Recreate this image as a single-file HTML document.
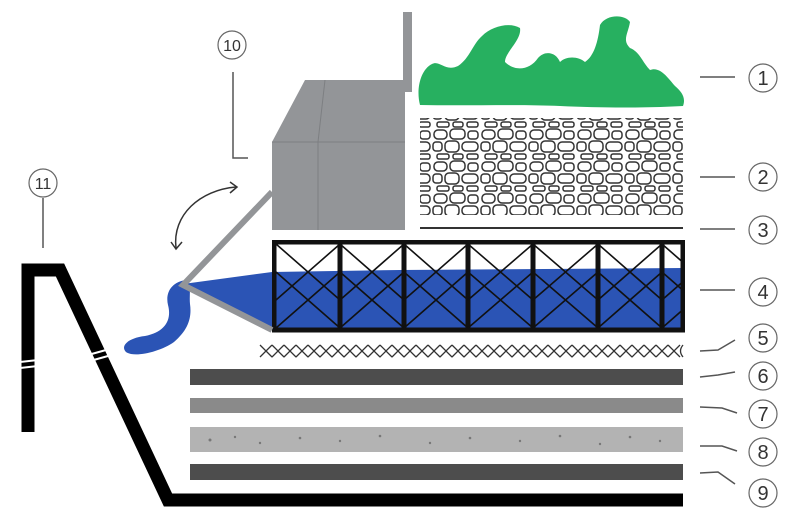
<!DOCTYPE html>
<html><head><style>body{margin:0;background:#fff}svg{display:block}</style></head><body>
<svg width="800" height="523" viewBox="0 0 800 523" xmlns="http://www.w3.org/2000/svg" font-family="Liberation Sans, sans-serif">
<defs>
<pattern id="grav" width="48" height="32" patternUnits="userSpaceOnUse">
<rect width="48" height="32" fill="#fff"/>
<g fill="none" stroke="#333" stroke-width="1.5">
<rect x="2" y="2" width="13" height="9" rx="4"/><rect x="18" y="1" width="15" height="10" rx="4"/><rect x="36" y="3" width="10" height="8" rx="3"/>
<rect x="1" y="14" width="9" height="9" rx="3"/><rect x="13" y="13" width="14" height="11" rx="4"/><rect x="30" y="14" width="16" height="9" rx="4"/>
<rect x="5" y="26" width="12" height="5" rx="2"/><rect x="21" y="26" width="10" height="5" rx="2"/><rect x="35" y="26" width="11" height="5" rx="2"/>
</g></pattern>
<clipPath id="tc"><rect x="272" y="240" width="413" height="93"/></clipPath>
</defs>
<!-- green -->
<path d="M420,105 C416,90 420,70 432,64 C440,60 445,72 458,66 C470,58 472,45 482,36 C492,26 510,22 520,28 C522,40 505,52 505,62 C515,72 530,70 538,58 C545,50 556,52 560,62 C566,56 578,56 585,62 C594,56 598,42 600,25 C606,14 625,14 630,22 C628,34 622,40 630,48 C640,52 642,62 650,70 C660,66 668,78 675,86 C682,92 686,98 683,106 C650,108 600,108 560,106 C520,104 470,106 420,105 Z" fill="#27b060"/>
<!-- gravel -->
<rect x="420" y="118" width="263" height="97" fill="url(#grav)"/>
<line x1="420" y1="228" x2="683" y2="228" stroke="#333" stroke-width="2"/>
<!-- blue -->
<path d="M183,284 L272,272 L400,270 L683,268 L683,330 L272,330 Z" fill="#2b54b5"/>
<path d="M186,280 C172,282 165,292 168,305 C172,320 165,332 145,336 C128,338 120,346 126,352 C134,358 160,352 174,342 C188,330 192,318 190,304 C189,294 192,286 186,280 Z" fill="#2b54b5"/>
<!-- truss -->
<g stroke="#111" fill="none" clip-path="url(#tc)">
<rect x="274" y="242" width="409" height="88" stroke-width="5"/>
<g stroke-width="5">
<line x1="340" y1="242" x2="340" y2="330"/><line x1="404" y1="242" x2="404" y2="330"/><line x1="468" y1="242" x2="468" y2="330"/><line x1="533" y1="242" x2="533" y2="330"/><line x1="598" y1="242" x2="598" y2="330"/><line x1="662" y1="242" x2="662" y2="330"/>
</g>
<g stroke-width="1.6">
<path d="M276,244 L340,300 M340,244 L276,300 M276,272 L340,328 M340,272 L276,328"/>
<path d="M340,244 L404,300 M404,244 L340,300 M340,272 L404,328 M404,272 L340,328"/>
<path d="M404,244 L468,300 M468,244 L404,300 M404,272 L468,328 M468,272 L404,328"/>
<path d="M468,244 L533,300 M533,244 L468,300 M468,272 L533,328 M533,272 L468,328"/>
<path d="M533,244 L598,300 M598,244 L533,300 M533,272 L598,328 M598,272 L533,328"/>
<path d="M598,244 L662,300 M662,244 L598,300 M598,272 L662,328 M662,272 L598,328"/>
<path d="M662,244 L726,300 M662,272 L726,328 M726,244 L662,300 M726,272 L662,328"/>
</g></g>
<!-- building -->
<path d="M305,80 L405,80 L405,230 L272,230 L272,142 Z" fill="#939598"/>
<path d="M272,142 L405,142 M325,80 L318,142 L318,230" stroke="#7d7f82" stroke-width="1" fill="none"/>
<rect x="403" y="12" width="9" height="80" fill="#939598"/>
<path d="M272,192 L183,285 L272,330" stroke="#939598" stroke-width="6" fill="none"/>
<!-- arrow -->
<path d="M176,248 C172,215 200,190 236,187" stroke="#333" stroke-width="1.5" fill="none"/>
<path d="M230,182 L237,187 L230,193 M171,242 L176,249 L182,242" stroke="#333" stroke-width="1.5" fill="none"/>
<!-- bars -->
<rect x="190" y="369" width="493" height="16" fill="#4d4d4d"/>
<rect x="190" y="398" width="493" height="15" fill="#8a8a8a"/>
<rect x="190" y="427" width="493" height="25" fill="#b3b3b3"/>
<g fill="#777"><circle cx="210" cy="440" r="1.5"/><circle cx="235" cy="437" r="1.2"/><circle cx="260" cy="443" r="1.2"/><circle cx="300" cy="438" r="1.3"/><circle cx="340" cy="441" r="1.2"/><circle cx="380" cy="436" r="1.3"/><circle cx="430" cy="443" r="1.2"/><circle cx="470" cy="438" r="1.3"/><circle cx="520" cy="441" r="1.2"/><circle cx="560" cy="436" r="1.3"/><circle cx="600" cy="444" r="1.2"/><circle cx="630" cy="437" r="1.3"/><circle cx="660" cy="441" r="1.2"/></g>
<rect x="190" y="464" width="493" height="16" fill="#4d4d4d"/>
<!-- black liner -->
<path d="M28,432 L28,270 L60,270 L168,500 L683,500" stroke="#000" stroke-width="13" fill="none" stroke-linejoin="miter"/>
<path d="M20,362 L38,360 M20,368 L38,366 M88,355 L106,350 M90,361 L108,356" stroke="#fff" stroke-width="2"/>
<!-- labels -->
<g stroke="#555" stroke-width="1.5" fill="none">
<line x1="700" y1="77" x2="735" y2="77"/><line x1="700" y1="177" x2="735" y2="177"/><line x1="700" y1="229" x2="735" y2="229"/><line x1="700" y1="290" x2="735" y2="290"/>
<path d="M700,351 L718,350 L735,340"/><path d="M700,377 L718,375 L735,372"/><path d="M700,407 L722,408 L737,413"/><path d="M700,446 L722,446 L737,451"/><path d="M700,473 L718,472 L735,484"/>
<path d="M233,72 L233,158 L248,158"/><line x1="43" y1="198" x2="43" y2="248"/>
</g>
<g fill="#fff" stroke="#666" stroke-width="1.2">
<circle cx="763" cy="78" r="14"/><circle cx="763" cy="177" r="14"/><circle cx="763" cy="230" r="14"/><circle cx="763" cy="292" r="14"/><circle cx="763" cy="338" r="14"/><circle cx="763" cy="376" r="14"/><circle cx="763" cy="414" r="14"/><circle cx="763" cy="452" r="14"/><circle cx="763" cy="493" r="14"/>
<circle cx="232" cy="45" r="14"/><circle cx="43" cy="183" r="14"/>
</g>
<g font-size="20" fill="#333" text-anchor="middle">
<text x="763" y="85">1</text><text x="763" y="184">2</text><text x="763" y="237">3</text><text x="763" y="299">4</text><text x="763" y="345">5</text><text x="763" y="383">6</text><text x="763" y="421">7</text><text x="763" y="459">8</text><text x="763" y="500">9</text>
<text x="232" y="51" font-size="16">10</text><text x="43" y="189" font-size="16">11</text>
</g>
<path fill="none" stroke="#333" stroke-width="1.3" d="
M260,345 l6,6 l-6,6 M266,351 l6,-6 M266,351 l6,6
M272,345 l6,6 l6,-6 M272,357 l6,-6 l6,6
M284,345 l6,6 l6,-6 M284,357 l6,-6 l6,6
M296,345 l6,6 l6,-6 M296,357 l6,-6 l6,6
M308,345 l6,6 l6,-6 M308,357 l6,-6 l6,6
M320,345 l6,6 l6,-6 M320,357 l6,-6 l6,6
M332,345 l6,6 l6,-6 M332,357 l6,-6 l6,6
M344,345 l6,6 l6,-6 M344,357 l6,-6 l6,6
M356,345 l6,6 l6,-6 M356,357 l6,-6 l6,6
M368,345 l6,6 l6,-6 M368,357 l6,-6 l6,6
M380,345 l6,6 l6,-6 M380,357 l6,-6 l6,6
M392,345 l6,6 l6,-6 M392,357 l6,-6 l6,6
M404,345 l6,6 l6,-6 M404,357 l6,-6 l6,6
M416,345 l6,6 l6,-6 M416,357 l6,-6 l6,6
M428,345 l6,6 l6,-6 M428,357 l6,-6 l6,6
M440,345 l6,6 l6,-6 M440,357 l6,-6 l6,6
M452,345 l6,6 l6,-6 M452,357 l6,-6 l6,6
M464,345 l6,6 l6,-6 M464,357 l6,-6 l6,6
M476,345 l6,6 l6,-6 M476,357 l6,-6 l6,6
M488,345 l6,6 l6,-6 M488,357 l6,-6 l6,6
M500,345 l6,6 l6,-6 M500,357 l6,-6 l6,6
M512,345 l6,6 l6,-6 M512,357 l6,-6 l6,6
M524,345 l6,6 l6,-6 M524,357 l6,-6 l6,6
M536,345 l6,6 l6,-6 M536,357 l6,-6 l6,6
M548,345 l6,6 l6,-6 M548,357 l6,-6 l6,6
M560,345 l6,6 l6,-6 M560,357 l6,-6 l6,6
M572,345 l6,6 l6,-6 M572,357 l6,-6 l6,6
M584,345 l6,6 l6,-6 M584,357 l6,-6 l6,6
M596,345 l6,6 l6,-6 M596,357 l6,-6 l6,6
M608,345 l6,6 l6,-6 M608,357 l6,-6 l6,6
M620,345 l6,6 l6,-6 M620,357 l6,-6 l6,6
M632,345 l6,6 l6,-6 M632,357 l6,-6 l6,6
M644,345 l6,6 l6,-6 M644,357 l6,-6 l6,6
M656,345 l6,6 l6,-6 M656,357 l6,-6 l6,6
M668,345 l6,6 l6,-6 M668,357 l6,-6 l6,6
M683,345 Q678,351 683,357
"/>
</svg>
</body></html>
